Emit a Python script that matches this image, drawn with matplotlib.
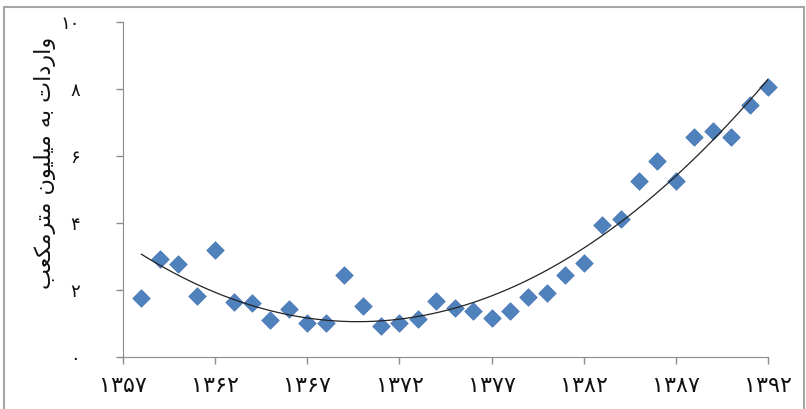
import numpy as np
import matplotlib.pyplot as plt
from matplotlib.patches import Rectangle

# ── Data ──────────────────────────────────────────────────────────
years = np.arange(1358, 1393)
imports = [1.76, 2.93, 2.78, 1.82, 3.19, 1.64, 1.61, 1.10, 1.43, 1.01,
           1.01, 2.45, 1.52, 0.93, 1.01, 1.13, 1.67, 1.46, 1.37, 1.16,
           1.37, 1.79, 1.91, 2.45, 2.81, 3.94, 4.12, 5.25, 5.85, 5.25,
           6.57, 6.75, 6.57, 7.52, 8.06]

xticks = [1357, 1362, 1367, 1372, 1377, 1382, 1387, 1392]
yticks = [0, 2, 4, 6, 8, 10]

FA = str.maketrans('0123456789', '\u06f0\u06f1\u06f2\u06f3\u06f4\u06f5\u06f6\u06f7\u06f8\u06f9')
def fa(n):
    return str(n).translate(FA)

# "واردات به میلیون مترمکعب" in shaped presentation forms, visual order
words = [
    '\ufeed\ufe8d\ufead\ufea9\ufe8d\ufe95',                 # واردات
    '\ufe91\ufeea',                                         # به
    '\ufee3\ufbff\ufee0\ufbff\ufeee\ufee5',                 # میلیون
    '\ufee3\ufe98\ufeae\ufee3\ufb91\ufecc\ufe90',           # مترمکعب
]
ylabel = ' '.join(words)[::-1]

plt.rcParams['font.family'] = ['DejaVu Sans']

fig = plt.figure(figsize=(8.06, 4.09), dpi=100)
fig.patch.set_facecolor('white')
ax = fig.add_axes([0.1526, 0.1271, 0.8003, 0.8191])

ax.scatter(years, imports, marker='D', s=80, color='#4F81BD',
           edgecolor='#4A7BB7', linewidth=0.5, zorder=3, clip_on=False)

coef = np.polyfit(years, imports, 2)
xf = np.linspace(years[0], years[-1], 300)
ax.plot(xf, np.polyval(coef, xf), color='#222222', lw=0.9, zorder=4)

ax.set_xlim(1357, 1392)
ax.set_ylim(0, 10)
ax.set_xticks(xticks)
ax.set_xticklabels([fa(v) for v in xticks], fontsize=16)
ax.set_yticks(yticks)
ax.set_yticklabels([fa(v) for v in yticks], fontsize=13)
ax.tick_params(axis='both', colors='#8c8c8c', length=5, width=1, labelcolor='#111111')
ax.tick_params(axis='x', pad=9)
ax.tick_params(axis='y', pad=26)
for sp in ['top', 'right']:
    ax.spines[sp].set_visible(False)
for sp in ['left', 'bottom']:
    ax.spines[sp].set_color('#8c8c8c')

fig.text(45 / 806, 1 - 163 / 409, ylabel, rotation=90, fontsize=16,
         ha='center', va='center', color='#111111')

fig.add_artist(Rectangle((0.005, -0.05), 0.993, 1.033, transform=fig.transFigure,
                         fill=False, ec='#a6a6a6', lw=1.5))

plt.savefig('out.png', dpi=100, facecolor='white')
